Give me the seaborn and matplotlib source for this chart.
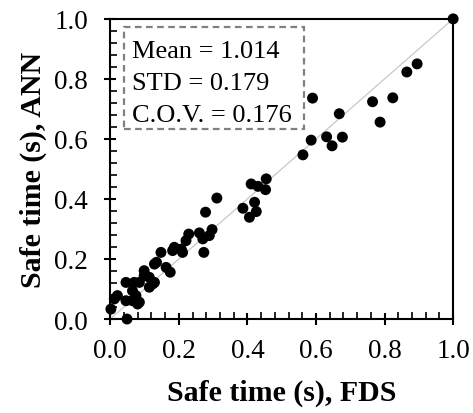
import matplotlib
matplotlib.use("Agg")
import matplotlib.pyplot as plt
import seaborn as sns
import pandas as pd
from matplotlib.ticker import MultipleLocator, FormatStrFormatter
from matplotlib.patches import Rectangle

fds = [0.049, 0.002, 0.012, 0.021, 0.046, 0.065, 0.075, 0.085, 0.065, 0.046,
       0.070, 0.085, 0.099, 0.114, 0.129, 0.099, 0.129, 0.163, 0.148, 0.187,
       0.207, 0.135, 0.175, 0.114, 0.124, 0.080,
       0.182, 0.211, 0.221, 0.229, 0.260, 0.270, 0.289, 0.297, 0.273, 0.278,
       0.311, 0.387, 0.406, 0.421, 0.426, 0.411, 0.431, 0.453, 0.455,
       0.562, 0.586, 0.590, 0.631, 0.647, 0.677, 0.668, 0.765, 0.787, 0.824,
       0.865, 0.895, 1.0]
ann = [0.000, 0.033, 0.067, 0.078, 0.061, 0.061, 0.078, 0.056, 0.094, 0.122,
       0.122, 0.122, 0.144, 0.139, 0.122, 0.161, 0.183, 0.172, 0.222, 0.239,
       0.233, 0.189, 0.156, 0.106, 0.117, 0.050,
       0.228, 0.222, 0.261, 0.283, 0.287, 0.267, 0.278, 0.298, 0.222, 0.356,
       0.403, 0.369, 0.339, 0.389, 0.358, 0.450, 0.442, 0.431, 0.467,
       0.547, 0.596, 0.736, 0.607, 0.577, 0.606, 0.684, 0.724, 0.656, 0.737,
       0.823, 0.850, 1.0]
stats_text = ["Mean = 1.014", "STD = 0.179", "C.O.V. = 0.176"]
xlabel = "Safe time (s), FDS"
ylabel = "Safe time (s), ANN"

sns.set_theme(style="ticks")
plt.rcParams['font.family'] = ['Liberation Serif', 'DejaVu Serif']
plt.rcParams['text.color'] = 'black'
plt.rcParams['axes.labelcolor'] = 'black'

df = pd.DataFrame({"FDS": fds, "ANN": ann})

fig = plt.figure(figsize=(4.73, 4.14), dpi=100)
ax = fig.add_axes([0.233, 0.227, 0.725, 0.725])

ax.plot([0, 1], [0, 1], color="#c8c8c8", lw=0.9, zorder=1)
sns.scatterplot(data=df, x="FDS", y="ANN", ax=ax, color="black", s=62,
                edgecolor="none", zorder=3, clip_on=False, legend=False)

ax.set_xlim(0, 1)
ax.set_ylim(0, 1)
ax.xaxis.set_major_locator(MultipleLocator(0.2))
ax.yaxis.set_major_locator(MultipleLocator(0.2))
ax.xaxis.set_minor_locator(MultipleLocator(0.04))
ax.yaxis.set_minor_locator(MultipleLocator(0.04))
ax.tick_params(which="major", direction="inout", length=9, width=1.5,
               labelsize=19.5, colors="black")
ax.tick_params(axis="x", which="major", pad=9.5)
ax.tick_params(axis="y", which="major", pad=11.5)
ax.tick_params(which="minor", direction="in", length=5, width=1.2, colors="black")
ax.xaxis.set_major_formatter(FormatStrFormatter("%.1f"))
ax.yaxis.set_major_formatter(FormatStrFormatter("%.1f"))
for sp in ax.spines.values():
    sp.set_linewidth(1.5)
    sp.set_color("black")

ax.set_xlabel(xlabel, fontsize=21.5, fontweight="bold", labelpad=11)
ax.set_ylabel(ylabel, fontsize=21.5, fontweight="bold", labelpad=5)

ax.add_patch(Rectangle((0.041, 0.633), 0.523, 0.340, transform=ax.transAxes,
                       facecolor="white", edgecolor="#808080",
                       linestyle=(0, (3, 2)), linewidth=1.6, zorder=4,
                       clip_on=False))
for txt, yb in zip(stats_text, [0.873, 0.767, 0.660]):
    ax.text(0.064, yb, txt, transform=ax.transAxes, fontsize=19,
            va="baseline", ha="left", zorder=5)

fig.savefig("out.png", dpi=100)
